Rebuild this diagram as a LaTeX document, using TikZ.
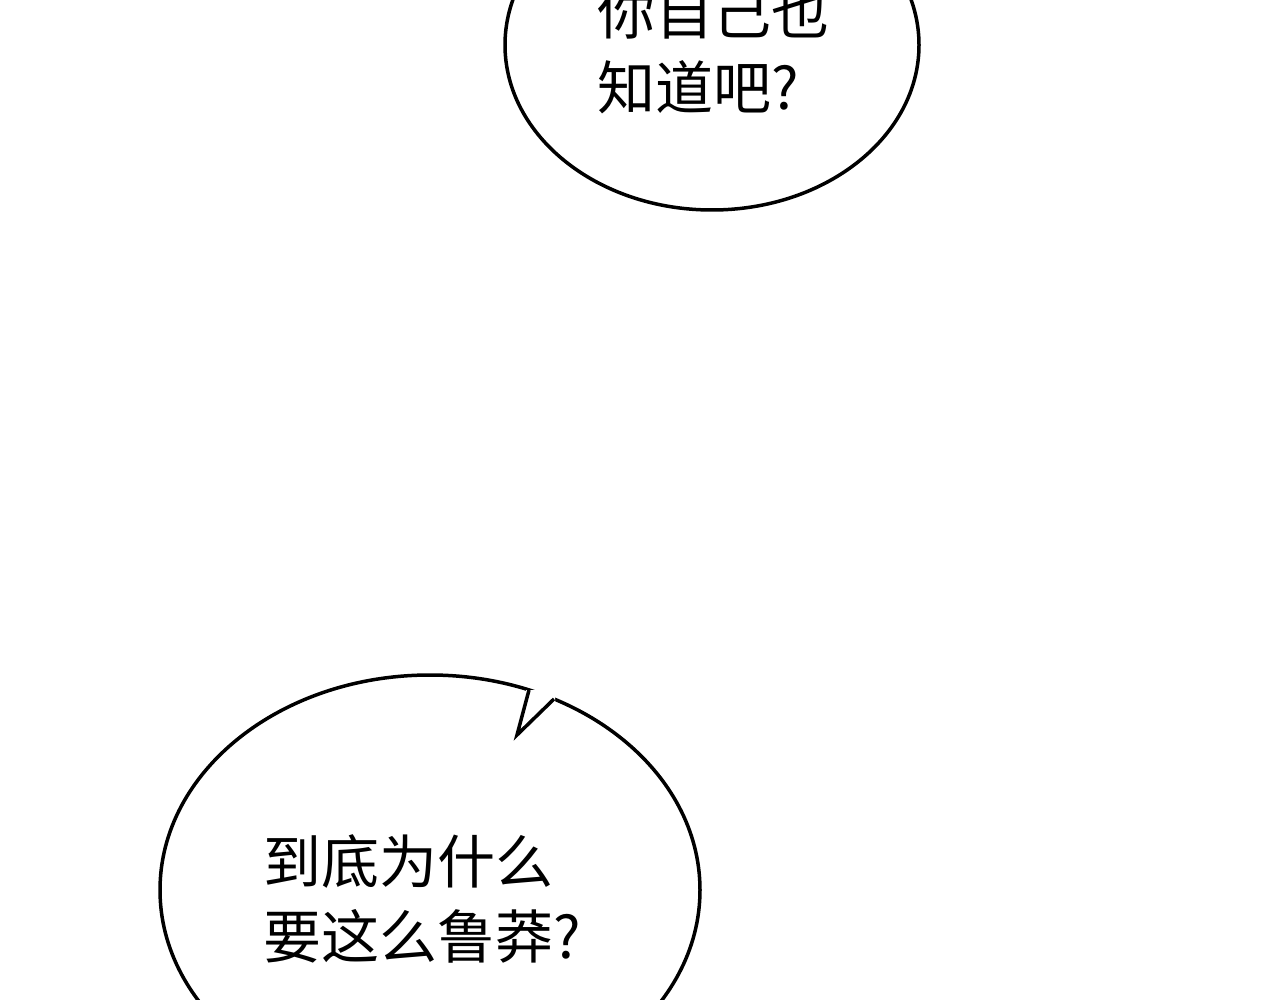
\documentclass[tikz,border=0pt]{standalone}
\usepackage{fontspec}
\newfontfamily\cjk{Noto Sans CJK SC}
\begin{document}
\begin{tikzpicture}[x=1pt,y=-1pt,
  bubble/.style={draw=black,line width=3.5pt,fill=white},
  txt/.style={font=\cjk\fontsize{58}{75}\selectfont,align=left,anchor=west,inner sep=0}]
\useasboundingbox[fill=white] (0,0) rectangle (1280,1000);
\begin{scope}
\clip (0,0) rectangle (1280,1000);
\draw[bubble] (712,45) ellipse [x radius=207, y radius=165];
\draw[bubble] (430,890) ellipse [x radius=270, y radius=215];
\fill[white] (526,696) -- (517,735) -- (555,703) -- (555,690) -- (526,690) -- cycle;
\draw[line width=3.5pt,line join=miter] (529,690) -- (517,735) -- (554,699);
\node[txt] (t1) at (597,50) {你自己也\\知道吧?};
\node[txt] (t2) at (263,899) {到底为什么\\要这么鲁莽?};
\end{scope}
\end{tikzpicture}
\end{document}
